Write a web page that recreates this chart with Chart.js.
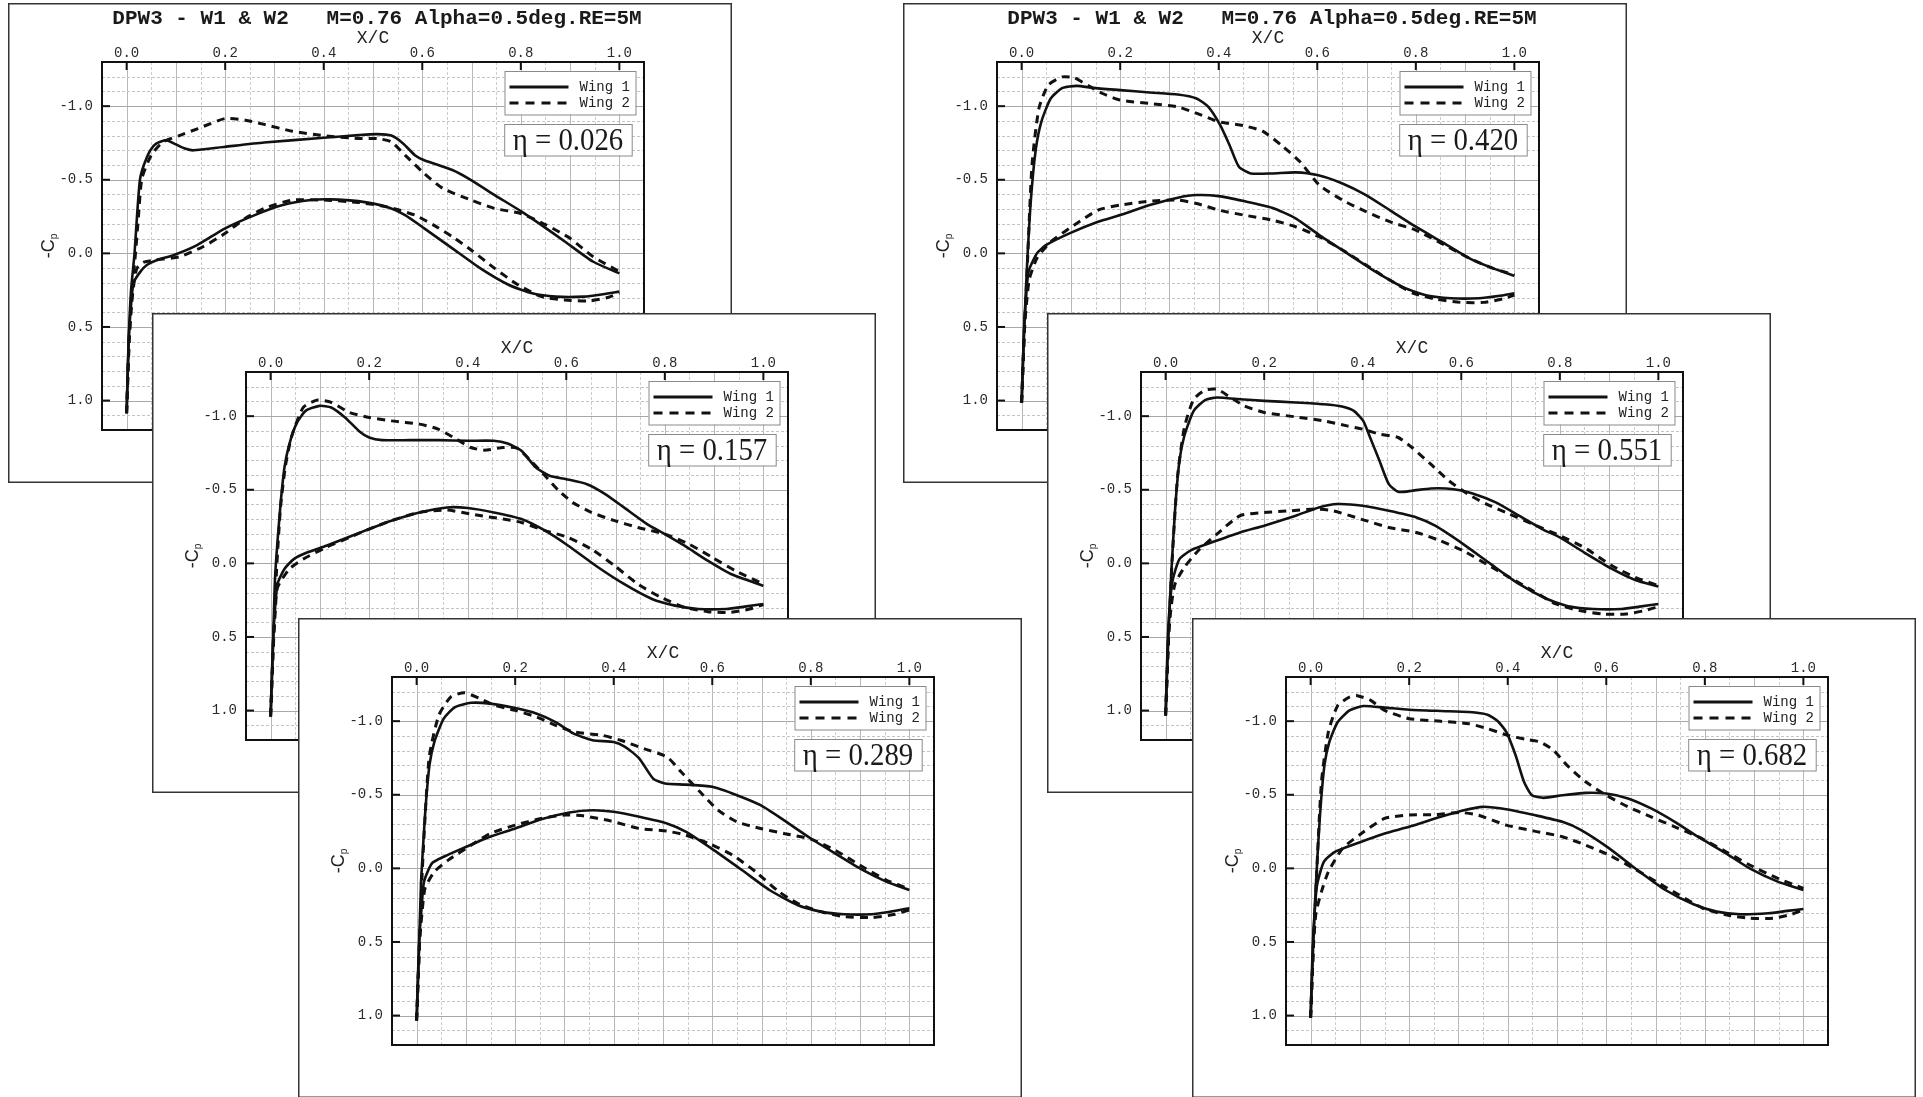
<!DOCTYPE html>
<html><head><meta charset="utf-8">
<script src="https://cdn.jsdelivr.net/npm/chart.js@4.4.1/dist/chart.umd.min.js"></script>
<style>
html,body{margin:0;padding:0;background:#fff;width:1923px;height:1097px;overflow:hidden;}
.panel{position:absolute;width:724px;height:480px;background:#fff;}
.panel canvas{position:absolute;left:0;top:0;}
</style></head><body>
<script>
// ---------- text / ticks ----------
const titleText = 'DPW3 - W1 & W2   M=0.76 Alpha=0.5deg.RE=5M';
const xAxisTitle = 'X/C';
const seriesNames = ['Wing 1', 'Wing 2'];
const etaLabels = ['0.026', '0.157', '0.289', '0.420', '0.551', '0.682'];
const xTicks = [0.0, 0.2, 0.4, 0.6, 0.8, 1.0];
const yTicks = [-1.0, -0.5, 0.0, 0.5, 1.0];

// ---------- data: [x/c, Cp] ----------
// eta = 0.026
const p1w1Up = [[0,1.086],[0.004,0.6],[0.009,0.25],[0.016,0],[0.021,-0.25],[0.027,-0.5],[0.035,-0.6],[0.048,-0.7],[0.06,-0.745],[0.08,-0.768],[0.1,-0.74],[0.12,-0.71],[0.136,-0.70],[0.2,-0.724],[0.279,-0.753],[0.4,-0.785],[0.47,-0.803],[0.508,-0.81],[0.537,-0.80],[0.561,-0.747],[0.585,-0.667],[0.604,-0.633],[0.661,-0.566],[0.699,-0.498],[0.747,-0.396],[0.8,-0.287],[0.842,-0.192],[0.89,-0.079],[0.947,0.057],[1.0,0.136]];
const p1w2Up = [[0,1.086],[0.005,0.6],[0.011,0.25],[0.018,0],[0.024,-0.25],[0.031,-0.51],[0.05,-0.667],[0.074,-0.758],[0.107,-0.80],[0.145,-0.848],[0.2,-0.916],[0.241,-0.905],[0.279,-0.876],[0.336,-0.83],[0.4,-0.8],[0.47,-0.78],[0.508,-0.78],[0.537,-0.758],[0.565,-0.667],[0.604,-0.543],[0.642,-0.441],[0.699,-0.362],[0.747,-0.305],[0.8,-0.271],[0.852,-0.192],[0.9,-0.102],[0.947,0.023],[1.0,0.124]];
const p1w1Lo = [[0,1.086],[0.004,0.6],[0.009,0.35],[0.014,0.2],[0.028,0.124],[0.041,0.079],[0.062,0.045],[0.096,0.011],[0.143,-0.056],[0.2,-0.17],[0.26,-0.26],[0.317,-0.328],[0.374,-0.362],[0.413,-0.367],[0.47,-0.355],[0.527,-0.317],[0.565,-0.26],[0.604,-0.17],[0.661,-0.034],[0.718,0.102],[0.776,0.215],[0.823,0.271],[0.871,0.294],[0.928,0.294],[0.967,0.278],[1.0,0.26]];
const p1w2Lo = [[0,1.086],[0.005,0.6],[0.01,0.35],[0.015,0.2],[0.021,0.1],[0.035,0.06],[0.059,0.045],[0.107,0.023],[0.155,-0.045],[0.2,-0.136],[0.241,-0.238],[0.279,-0.305],[0.336,-0.362],[0.4,-0.362],[0.47,-0.346],[0.527,-0.317],[0.585,-0.26],[0.623,-0.192],[0.661,-0.113],[0.699,-0.023],[0.747,0.102],[0.795,0.215],[0.842,0.294],[0.89,0.317],[0.938,0.324],[0.976,0.30],[1.0,0.27]];
// eta = 0.157
const p2w1Up = [[0,1.04],[0.005,0.55],[0.009,0.095],[0.019,-0.357],[0.028,-0.65],[0.038,-0.81],[0.052,-0.946],[0.071,-1.036],[0.099,-1.07],[0.123,-1.059],[0.151,-0.991],[0.179,-0.9],[0.2,-0.855],[0.226,-0.837],[0.283,-0.837],[0.34,-0.837],[0.4,-0.833],[0.453,-0.833],[0.481,-0.814],[0.509,-0.765],[0.538,-0.652],[0.566,-0.595],[0.6,-0.572],[0.642,-0.538],[0.679,-0.471],[0.717,-0.38],[0.764,-0.267],[0.8,-0.199],[0.84,-0.12],[0.887,-0.018],[0.934,0.072],[1.0,0.152]];
const p2w2Up = [[0,1.04],[0.006,0.5],[0.012,0.05],[0.02,-0.38],[0.03,-0.66],[0.042,-0.855],[0.066,-1.059],[0.094,-1.109],[0.123,-1.093],[0.16,-1.025],[0.2,-0.991],[0.245,-0.968],[0.302,-0.946],[0.34,-0.912],[0.377,-0.844],[0.406,-0.787],[0.434,-0.769],[0.472,-0.787],[0.5,-0.783],[0.528,-0.697],[0.557,-0.595],[0.585,-0.493],[0.613,-0.414],[0.651,-0.346],[0.698,-0.29],[0.745,-0.244],[0.8,-0.199],[0.849,-0.131],[0.896,-0.041],[0.943,0.05],[1.0,0.14]];
const p2w1Lo = [[0,1.04],[0.004,0.6],[0.008,0.35],[0.014,0.14],[0.028,0.038],[0.047,-0.029],[0.075,-0.075],[0.113,-0.12],[0.16,-0.181],[0.2,-0.233],[0.245,-0.29],[0.302,-0.346],[0.358,-0.38],[0.4,-0.376],[0.453,-0.346],[0.509,-0.301],[0.557,-0.222],[0.604,-0.12],[0.66,0.016],[0.717,0.14],[0.774,0.242],[0.821,0.287],[0.868,0.31],[0.925,0.31],[0.962,0.294],[1.0,0.276]];
const p2w2Lo = [[0,1.04],[0.005,0.6],[0.009,0.35],[0.014,0.163],[0.038,0.038],[0.066,-0.029],[0.113,-0.109],[0.16,-0.176],[0.2,-0.233],[0.245,-0.29],[0.302,-0.346],[0.358,-0.362],[0.415,-0.33],[0.472,-0.301],[0.509,-0.278],[0.557,-0.222],[0.604,-0.176],[0.651,-0.097],[0.698,0.016],[0.745,0.14],[0.792,0.231],[0.84,0.299],[0.887,0.328],[0.934,0.333],[0.972,0.31],[1.0,0.28]];
// eta = 0.289
const p3w1Up = [[0,1.034],[0.005,0.54],[0.009,0.09],[0.017,-0.36],[0.026,-0.70],[0.036,-0.86],[0.055,-1.017],[0.078,-1.096],[0.111,-1.125],[0.149,-1.119],[0.2,-1.089],[0.244,-1.051],[0.282,-0.994],[0.319,-0.915],[0.357,-0.87],[0.4,-0.859],[0.423,-0.825],[0.452,-0.746],[0.48,-0.61],[0.504,-0.576],[0.546,-0.569],[0.6,-0.554],[0.65,-0.497],[0.698,-0.429],[0.745,-0.328],[0.8,-0.203],[0.849,-0.102],[0.905,0.011],[0.953,0.09],[1.0,0.147]];
const p3w2Up = [[0,1.034],[0.006,0.5],[0.011,0.05],[0.018,-0.4],[0.026,-0.768],[0.045,-1.04],[0.069,-1.164],[0.097,-1.193],[0.126,-1.157],[0.159,-1.107],[0.2,-1.073],[0.244,-1.028],[0.282,-0.972],[0.319,-0.927],[0.376,-0.904],[0.414,-0.87],[0.461,-0.814],[0.508,-0.757],[0.537,-0.655],[0.575,-0.52],[0.612,-0.395],[0.65,-0.316],[0.698,-0.271],[0.745,-0.237],[0.8,-0.199],[0.849,-0.124],[0.905,-0.011],[0.953,0.079],[1.0,0.14]];
const p3w1Lo = [[0,1.034],[0.005,0.5],[0.01,0.27],[0.015,0.09],[0.031,-0.034],[0.055,-0.079],[0.093,-0.136],[0.149,-0.215],[0.2,-0.271],[0.253,-0.334],[0.31,-0.38],[0.357,-0.395],[0.4,-0.384],[0.452,-0.35],[0.508,-0.305],[0.546,-0.249],[0.603,-0.124],[0.66,0.011],[0.716,0.147],[0.773,0.249],[0.82,0.294],[0.868,0.312],[0.924,0.312],[0.962,0.294],[1.0,0.271]];
const p3w2Lo = [[0,1.034],[0.006,0.5],[0.011,0.3],[0.017,0.136],[0.036,0.023],[0.064,-0.056],[0.111,-0.158],[0.149,-0.237],[0.2,-0.294],[0.253,-0.339],[0.301,-0.362],[0.338,-0.357],[0.395,-0.321],[0.452,-0.271],[0.508,-0.253],[0.546,-0.226],[0.593,-0.169],[0.641,-0.09],[0.688,0.023],[0.735,0.158],[0.773,0.237],[0.82,0.294],[0.868,0.328],[0.924,0.334],[0.971,0.312],[1.0,0.282]];
// eta = 0.420
const p4w1Up = [[0,1.016],[0.005,0.53],[0.011,0.08],[0.019,-0.373],[0.029,-0.713],[0.04,-0.894],[0.059,-1.052],[0.083,-1.124],[0.112,-1.138],[0.145,-1.124],[0.2,-1.109],[0.26,-1.093],[0.317,-1.079],[0.355,-1.052],[0.379,-0.995],[0.403,-0.871],[0.422,-0.735],[0.441,-0.588],[0.465,-0.543],[0.508,-0.543],[0.556,-0.55],[0.6,-0.532],[0.651,-0.475],[0.699,-0.396],[0.747,-0.294],[0.8,-0.181],[0.852,-0.079],[0.909,0.034],[0.957,0.102],[1.0,0.152]];
const p4w2Up = [[0,1.016],[0.006,0.5],[0.012,0.05],[0.021,-0.6],[0.035,-0.984],[0.054,-1.143],[0.083,-1.199],[0.107,-1.192],[0.136,-1.138],[0.164,-1.086],[0.2,-1.041],[0.26,-1.018],[0.317,-0.995],[0.365,-0.939],[0.4,-0.894],[0.451,-0.867],[0.489,-0.83],[0.527,-0.735],[0.565,-0.622],[0.604,-0.464],[0.651,-0.362],[0.699,-0.283],[0.747,-0.215],[0.8,-0.158],[0.852,-0.068],[0.909,0.034],[0.957,0.102],[1.0,0.147]];
const p4w1Lo = [[0,1.016],[0.005,0.5],[0.009,0.3],[0.014,0.124],[0.031,0.0],[0.05,-0.057],[0.097,-0.136],[0.155,-0.215],[0.2,-0.26],[0.26,-0.328],[0.317,-0.378],[0.355,-0.396],[0.4,-0.389],[0.451,-0.355],[0.508,-0.31],[0.556,-0.238],[0.604,-0.124],[0.661,0.0],[0.718,0.124],[0.776,0.233],[0.823,0.287],[0.871,0.305],[0.928,0.305],[0.967,0.29],[1.0,0.271]];
const p4w2Lo = [[0,1.016],[0.006,0.5],[0.011,0.3],[0.016,0.17],[0.031,0.034],[0.059,-0.079],[0.107,-0.192],[0.155,-0.294],[0.2,-0.328],[0.26,-0.355],[0.317,-0.362],[0.355,-0.339],[0.4,-0.294],[0.451,-0.26],[0.508,-0.226],[0.556,-0.181],[0.604,-0.113],[0.651,-0.023],[0.699,0.079],[0.747,0.181],[0.795,0.271],[0.842,0.312],[0.89,0.333],[0.938,0.333],[0.976,0.31],[1.0,0.283]];
// eta = 0.551
const p5w1Up = [[0,1.034],[0.005,0.55],[0.011,0.095],[0.019,-0.357],[0.028,-0.697],[0.038,-0.867],[0.057,-1.036],[0.08,-1.109],[0.104,-1.127],[0.151,-1.115],[0.2,-1.104],[0.264,-1.093],[0.321,-1.081],[0.358,-1.066],[0.382,-1.036],[0.401,-0.968],[0.415,-0.855],[0.434,-0.697],[0.453,-0.538],[0.472,-0.486],[0.5,-0.493],[0.538,-0.509],[0.585,-0.504],[0.623,-0.475],[0.67,-0.414],[0.717,-0.324],[0.764,-0.233],[0.8,-0.176],[0.849,-0.075],[0.906,0.038],[0.953,0.113],[1.0,0.158]];
const p5w2Up = [[0,1.034],[0.006,0.5],[0.012,0.05],[0.024,-0.584],[0.038,-0.923],[0.057,-1.115],[0.08,-1.176],[0.104,-1.183],[0.132,-1.127],[0.16,-1.07],[0.2,-1.025],[0.264,-0.995],[0.321,-0.968],[0.368,-0.934],[0.4,-0.912],[0.434,-0.878],[0.472,-0.855],[0.5,-0.787],[0.538,-0.674],[0.575,-0.561],[0.613,-0.471],[0.651,-0.403],[0.698,-0.335],[0.745,-0.267],[0.8,-0.188],[0.849,-0.109],[0.906,0.016],[0.953,0.095],[1.0,0.152]];
const p5w1Lo = [[0,1.034],[0.004,0.55],[0.008,0.3],[0.014,0.118],[0.028,-0.029],[0.052,-0.09],[0.094,-0.143],[0.151,-0.21],[0.2,-0.256],[0.264,-0.324],[0.311,-0.38],[0.349,-0.403],[0.4,-0.391],[0.453,-0.357],[0.509,-0.312],[0.547,-0.256],[0.604,-0.131],[0.66,0.005],[0.717,0.14],[0.774,0.242],[0.821,0.294],[0.868,0.31],[0.925,0.31],[0.962,0.294],[1.0,0.276]];
const p5w2Lo = [[0,1.034],[0.006,0.5],[0.011,0.3],[0.019,0.14],[0.038,0.027],[0.066,-0.086],[0.104,-0.199],[0.151,-0.324],[0.2,-0.346],[0.255,-0.357],[0.302,-0.369],[0.34,-0.357],[0.396,-0.301],[0.453,-0.244],[0.509,-0.21],[0.557,-0.154],[0.604,-0.086],[0.651,0.005],[0.698,0.095],[0.745,0.186],[0.792,0.276],[0.84,0.321],[0.887,0.344],[0.934,0.344],[0.972,0.321],[1.0,0.294]];
// eta = 0.682
const p6w1Up = [[0,1.016],[0.005,0.542],[0.011,0.09],[0.019,-0.362],[0.028,-0.70],[0.038,-0.859],[0.055,-0.994],[0.079,-1.073],[0.107,-1.103],[0.15,-1.092],[0.2,-1.078],[0.264,-1.069],[0.321,-1.062],[0.359,-1.044],[0.38,-0.999],[0.397,-0.927],[0.416,-0.768],[0.433,-0.588],[0.449,-0.497],[0.473,-0.479],[0.511,-0.497],[0.558,-0.513],[0.6,-0.508],[0.644,-0.475],[0.691,-0.407],[0.739,-0.316],[0.786,-0.215],[0.843,-0.102],[0.891,0.0],[0.948,0.09],[1.0,0.147]];
const p6w2Up = [[0,1.016],[0.006,0.5],[0.012,0.05],[0.022,-0.588],[0.036,-0.927],[0.055,-1.107],[0.079,-1.164],[0.093,-1.175],[0.122,-1.141],[0.15,-1.073],[0.2,-1.017],[0.264,-0.999],[0.321,-0.983],[0.359,-0.949],[0.4,-0.904],[0.436,-0.877],[0.465,-0.859],[0.493,-0.802],[0.52,-0.701],[0.558,-0.588],[0.6,-0.497],[0.644,-0.418],[0.691,-0.35],[0.739,-0.282],[0.786,-0.215],[0.843,-0.113],[0.891,-0.023],[0.948,0.068],[1.0,0.136]];
const p6w1Lo = [[0,1.016],[0.004,0.55],[0.008,0.3],[0.013,0.113],[0.027,-0.045],[0.05,-0.113],[0.093,-0.169],[0.15,-0.237],[0.2,-0.282],[0.264,-0.35],[0.311,-0.395],[0.349,-0.418],[0.4,-0.4],[0.454,-0.362],[0.511,-0.316],[0.549,-0.26],[0.606,-0.136],[0.663,0.011],[0.72,0.147],[0.777,0.244],[0.824,0.294],[0.872,0.312],[0.929,0.305],[0.967,0.289],[1.0,0.276]];
const p6w2Lo = [[0,1.016],[0.006,0.5],[0.011,0.3],[0.022,0.158],[0.036,0.023],[0.065,-0.136],[0.103,-0.237],[0.15,-0.339],[0.2,-0.362],[0.255,-0.366],[0.302,-0.38],[0.34,-0.362],[0.397,-0.294],[0.454,-0.253],[0.511,-0.215],[0.558,-0.158],[0.606,-0.09],[0.653,-0.005],[0.701,0.09],[0.748,0.181],[0.796,0.271],[0.843,0.316],[0.891,0.339],[0.938,0.339],[0.976,0.312],[1.0,0.282]];

const panelCurves = [
  [p1w1Up, p1w1Lo, p1w2Up, p1w2Lo],
  [p2w1Up, p2w1Lo, p2w2Up, p2w2Lo],
  [p3w1Up, p3w1Lo, p3w2Up, p3w2Lo],
  [p4w1Up, p4w1Lo, p4w2Up, p4w2Lo],
  [p5w1Up, p5w1Lo, p5w2Up, p5w2Lo],
  [p6w1Up, p6w1Lo, p6w2Up, p6w2Lo]
];

// ---------- layout (positions only) ----------
const panelPos = [[8,3],[152,313],[298,618],[903,3],[1047,313],[1192,618]];
const panelHasTitle = [true,false,false,true,false,false];
const PW = 724, PH = 480;

const INK = '#111';
const MONO = '"Liberation Mono", "DejaVu Sans Mono", monospace';

const decoPlugin = {
  id: 'deco',
  beforeDraw(chart) {
    const c = chart.ctx;
    c.save(); c.fillStyle = '#fff'; c.fillRect(0, 0, chart.width, chart.height); c.restore();
  },
  beforeDatasetsDraw(chart) {
    const c = chart.ctx, a = chart.chartArea, sx = chart.scales.x, sy = chart.scales.y;
    c.save();
    c.beginPath(); c.rect(a.left, a.top, a.right - a.left, a.bottom - a.top); c.clip();
    c.lineWidth = 1;
    for (let i = -1; i <= 21; i++) {
      const px = Math.round(sx.getPixelForValue(i * 0.05)) + 0.5;
      const major = (i % 2 === 0);
      c.strokeStyle = major ? '#b8b8b8' : '#cdcdcd';
      c.setLineDash(major ? [] : [3, 2]);
      c.beginPath(); c.moveTo(px, a.top); c.lineTo(px, a.bottom); c.stroke();
    }
    for (let j = -13; j <= 12; j++) {
      const py = Math.round(sy.getPixelForValue(j * 0.1)) + 0.5;
      const major = (j % 5 === 0);
      c.strokeStyle = major ? '#a8a8a8' : '#c4c4c4';
      c.setLineDash(major ? [] : [3, 2]);
      c.beginPath(); c.moveTo(a.left, py); c.lineTo(a.right, py); c.stroke();
    }
    c.restore();
  },
  afterDatasetsDraw(chart) {
    const c = chart.ctx, a = chart.chartArea, sx = chart.scales.x, sy = chart.scales.y;
    const o = chart.options.plugins.deco;
    c.save();
    // plot border
    c.strokeStyle = INK; c.lineWidth = 2; c.setLineDash([]);
    c.strokeRect(a.left, a.top, a.right - a.left, a.bottom - a.top);
    // inward major ticks
    c.lineWidth = 2;
    xTicks.forEach(v => { const px = sx.getPixelForValue(v); c.beginPath(); c.moveTo(px, a.top); c.lineTo(px, a.top + 8); c.stroke(); });
    yTicks.forEach(v => { const py = sy.getPixelForValue(v); c.beginPath(); c.moveTo(a.left, py); c.lineTo(a.left + 8, py); c.stroke(); });
    // legend box
    const lw = 131, lh = 43.5;
    const lx = a.right - 8.5 - lw, ly = a.top + 9;
    c.fillStyle = '#fff'; c.fillRect(lx, ly, lw, lh);
    c.strokeStyle = '#8a8a8a'; c.lineWidth = 1; c.strokeRect(lx + 0.5, ly + 0.5, lw, lh);
    c.strokeStyle = INK;
    c.lineWidth = 2.8; c.beginPath(); c.moveTo(lx + 5, ly + 16); c.lineTo(lx + 64, ly + 16); c.stroke();
    c.lineWidth = 3; c.setLineDash([9, 7]); c.beginPath(); c.moveTo(lx + 5, ly + 32); c.lineTo(lx + 64, ly + 32); c.stroke();
    c.setLineDash([]);
    c.fillStyle = '#222'; c.font = '14px ' + MONO; c.textAlign = 'left'; c.textBaseline = 'middle';
    c.fillText(seriesNames[0], lx + 75, ly + 16.5);
    c.fillText(seriesNames[1], lx + 75, ly + 32.5);
    // eta box
    const ew = 127.5, eh = 31.5;
    const ex = a.right - 12.3 - ew, ey = a.top + 62;
    c.fillStyle = '#fff'; c.fillRect(ex, ey, ew, eh);
    c.strokeStyle = '#8a8a8a'; c.lineWidth = 1; c.strokeRect(ex + 0.5, ey + 0.5, ew, eh);
    c.save();
    c.translate(ex + ew / 2, ey + eh / 2 + 2);
    c.scale(0.9, 1);
    c.fillStyle = '#1a1a1a'; c.font = '32px "Liberation Serif", "DejaVu Serif", serif';
    c.textAlign = 'center'; c.textBaseline = 'middle';
    c.fillText('\u03B7 = ' + o.eta, 0, 0);
    c.restore();
    // axis title X/C
    c.fillStyle = '#222'; c.font = '18px ' + MONO; c.textAlign = 'center'; c.textBaseline = 'middle';
    c.fillText(xAxisTitle, (a.left + a.right) / 2, 35);
    // y title -Cp
    c.save();
    c.translate(41, (a.top + a.bottom) / 2);
    c.rotate(-Math.PI / 2);
    c.font = '18px "Liberation Sans", Arial, sans-serif';
    const w1 = c.measureText('-C').width;
    c.font = '10px "Liberation Sans", Arial, sans-serif';
    const w2 = c.measureText('p').width;
    const start = -(w1 + w2) / 2;
    c.textAlign = 'left'; c.textBaseline = 'middle';
    c.font = '18px "Liberation Sans", Arial, sans-serif';
    c.fillText('-C', start, 0);
    c.font = '10px "Liberation Sans", Arial, sans-serif';
    c.fillText('p', start + w1, 5);
    c.restore();
    // title
    if (o.title) {
      c.fillStyle = '#1a1a1a'; c.font = 'bold 21px ' + MONO; c.textAlign = 'center'; c.textBaseline = 'middle';
      c.fillText(titleText, 369, 16);
    }
    // frame border
    c.strokeStyle = '#333'; c.lineWidth = 1.5;
    c.strokeRect(0.75, 0.75, chart.width - 1.5, chart.height - 1.5);
    c.restore();
  }
};

function makeDataset(points, dashed) {
  return {
    data: points.map(p => ({ x: p[0], y: p[1] })),
    showLine: true,
    borderColor: INK,
    borderWidth: dashed ? 3 : 2.6,
    borderDash: dashed ? [8, 6] : [],
    pointRadius: 0,
    pointHoverRadius: 0,
    tension: 0.2,
    fill: false
  };
}

panelPos.forEach((pos, i) => {
  const div = document.createElement('div');
  div.className = 'panel';
  div.style.left = pos[0] + 'px';
  div.style.top = pos[1] + 'px';
  const cv = document.createElement('canvas');
  cv.width = PW; cv.height = PH;
  cv.style.width = PW + 'px'; cv.style.height = PH + 'px';
  div.appendChild(cv);
  document.body.appendChild(div);
  const curves = panelCurves[i];
  new Chart(cv.getContext('2d'), {
    type: 'scatter',
    data: {
      datasets: [
        makeDataset(curves[0], false), makeDataset(curves[1], false),
        makeDataset(curves[2], true), makeDataset(curves[3], true)
      ]
    },
    options: {
      responsive: false,
      animation: false,
      devicePixelRatio: 1,
      layout: { padding: { top: 0, left: 0, right: 88, bottom: 53 } },
      plugins: {
        legend: { display: false },
        tooltip: { enabled: false },
        deco: { eta: etaLabels[i], title: panelHasTitle[i] }
      },
      scales: {
        x: {
          type: 'linear', position: 'top', min: -0.05, max: 1.05,
          afterBuildTicks: s => { s.ticks = xTicks.map(v => ({ value: v })); },
          afterFit: s => { s.height = 59; },
          grid: { display: false, drawTicks: false },
          border: { display: false },
          ticks: { padding: 0, maxRotation: 0, autoSkip: false, color: '#2a2a2a',
                   font: { family: MONO, size: 14 }, callback: v => Number(v).toFixed(1) }
        },
        y: {
          type: 'linear', position: 'left', reverse: true, min: -1.3, max: 1.2,
          afterBuildTicks: s => { s.ticks = yTicks.map(v => ({ value: v })); },
          afterFit: s => { s.width = 94; },
          grid: { display: false, drawTicks: false },
          border: { display: false },
          ticks: { padding: 9, autoSkip: false, color: '#2a2a2a',
                   font: { family: MONO, size: 14 }, callback: v => Number(v).toFixed(1) }
        }
      }
    },
    plugins: [decoPlugin]
  });
});
</script>
</body></html>
